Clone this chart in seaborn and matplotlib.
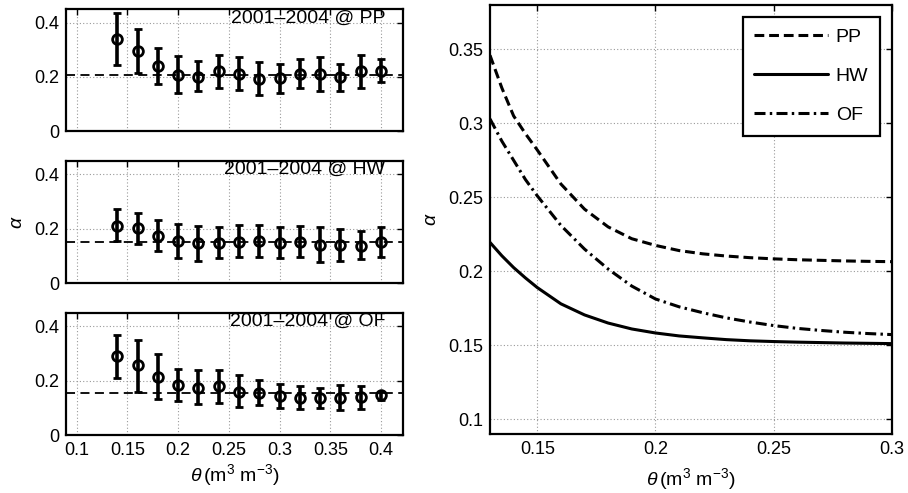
import numpy as np
import pandas as pd
import matplotlib
matplotlib.use("Agg")
import matplotlib.pyplot as plt
import seaborn as sns

# ---- data: binned alpha vs soil moisture ----
theta_bins = [0.14, 0.16, 0.18, 0.20, 0.22, 0.24, 0.26, 0.28, 0.30, 0.32, 0.34, 0.36, 0.38, 0.40]

pp_mean = [0.340, 0.296, 0.241, 0.207, 0.201, 0.220, 0.211, 0.193, 0.195, 0.211, 0.211, 0.198, 0.220, 0.220]
pp_top  = [0.436, 0.377, 0.306, 0.275, 0.260, 0.281, 0.273, 0.254, 0.247, 0.265, 0.273, 0.248, 0.281, 0.265]
pp_bot  = [0.244, 0.214, 0.174, 0.140, 0.149, 0.159, 0.152, 0.131, 0.142, 0.160, 0.149, 0.147, 0.160, 0.179]
pp_ref = 0.207

hw_mean = [0.211, 0.204, 0.174, 0.155, 0.148, 0.148, 0.152, 0.156, 0.146, 0.150, 0.140, 0.140, 0.137, 0.152]
hw_top  = [0.271, 0.259, 0.232, 0.217, 0.211, 0.207, 0.212, 0.212, 0.206, 0.210, 0.205, 0.199, 0.191, 0.207]
hw_bot  = [0.155, 0.145, 0.119, 0.091, 0.082, 0.091, 0.094, 0.097, 0.091, 0.094, 0.079, 0.081, 0.087, 0.097]
hw_ref = 0.152

of_mean = [0.290, 0.256, 0.212, 0.185, 0.173, 0.179, 0.158, 0.155, 0.142, 0.136, 0.136, 0.136, 0.139, 0.146]
of_top  = [0.367, 0.351, 0.298, 0.244, 0.239, 0.239, 0.220, 0.201, 0.188, 0.179, 0.172, 0.183, 0.182, 0.160]
of_bot  = [0.210, 0.157, 0.134, 0.126, 0.115, 0.117, 0.102, 0.109, 0.099, 0.097, 0.099, 0.091, 0.097, 0.130]
of_ref = 0.153

# ---- data: fitted curves ----
theta_curve = [0.13, 0.135, 0.14, 0.145, 0.15, 0.16, 0.17, 0.18, 0.19, 0.20, 0.21, 0.22,
               0.23, 0.24, 0.25, 0.26, 0.27, 0.28, 0.29, 0.30]
pp_curve = [0.346, 0.324, 0.305, 0.293, 0.282, 0.259, 0.242, 0.230, 0.222, 0.2175, 0.214, 0.2118,
            0.2103, 0.2092, 0.2084, 0.2078, 0.2074, 0.2070, 0.2067, 0.2065]
hw_curve = [0.2195, 0.2105, 0.2025, 0.1955, 0.189, 0.178, 0.1705, 0.1650, 0.1610, 0.1583, 0.1563, 0.1550,
            0.1538, 0.1530, 0.1525, 0.1521, 0.1518, 0.1515, 0.1513, 0.1511]
of_curve = [0.303, 0.288, 0.275, 0.262, 0.251, 0.231, 0.215, 0.2015, 0.190, 0.1813, 0.1760, 0.1720,
            0.1685, 0.1657, 0.1633, 0.1614, 0.1600, 0.1588, 0.1579, 0.1572]

sites = ["PP", "HW", "OF"]
panel_titles = ["2001\u20132004 @ PP", "2001\u20132004 @ HW", "2001\u20132004 @ OF"]

sns.set_theme(style="white")
plt.rcParams["font.family"] = ["Liberation Sans", "DejaVu Sans"]
plt.rcParams["mathtext.fontset"] = "custom"
plt.rcParams["mathtext.rm"] = "Liberation Sans"
plt.rcParams["mathtext.it"] = "Liberation Sans:italic"
plt.rcParams["text.color"] = "black"
plt.rcParams["axes.labelcolor"] = "black"
plt.rcParams["xtick.color"] = "black"
plt.rcParams["ytick.color"] = "black"

FS = 13
fig = plt.figure(figsize=(9.08, 4.93), dpi=100)

xlab = r"$\theta\,$(m$^{3}$ m$^{-3}$)"

def style_axes(ax):
    for s in ax.spines.values():
        s.set_color("black")
        s.set_linewidth(1.6)
    ax.tick_params(direction="in", top=True, right=True, length=4, width=1,
                   labelsize=FS, colors="black", pad=5)
    ax.grid(True, linestyle=(0, (1, 2)), color="#999999", linewidth=0.8)
    ax.set_axisbelow(True)

left_boxes = [
    [66 / 908, 1 - 131 / 493, 337 / 908, 122 / 493],
    [66 / 908, 1 - 283 / 493, 337 / 908, 122.3 / 493],
    [66 / 908, 1 - 435 / 493, 337 / 908, 122.3 / 493],
]
means = [pp_mean, hw_mean, of_mean]
tops = [pp_top, hw_top, of_top]
bots = [pp_bot, hw_bot, of_bot]
refs = [pp_ref, hw_ref, of_ref]

for i in range(3):
    ax = fig.add_axes(left_boxes[i])
    m = np.array(means[i]); t = np.array(tops[i]); b = np.array(bots[i])
    ax.axhline(refs[i], color="black", linewidth=1.3, linestyle=(0, (5, 3)), zorder=2)
    ax.errorbar(theta_bins, m, yerr=[m - b, t - m], fmt="o", color="black",
                mfc="none", mec="black", ms=7, mew=2.0, elinewidth=2.6,
                capsize=3.2, capthick=2.6, zorder=3)
    ax.set_xlim(0.0895, 0.4217)
    ax.set_ylim(0, 0.45)
    ax.set_xticks([0.1, 0.15, 0.2, 0.25, 0.3, 0.35, 0.4])
    ax.set_yticks([0, 0.2, 0.4])
    ax.set_yticklabels(["0", "0.2", "0.4"])
    style_axes(ax)
    ax.text(0.947, 0.4, panel_titles[i], transform=ax.get_yaxis_transform(),
            ha="right", va="baseline", fontsize=14, color="black")
    if i < 2:
        ax.set_xticklabels([])
    else:
        ax.set_xticklabels(["0.1", "0.15", "0.2", "0.25", "0.3", "0.35", "0.4"])
        ax.set_xlabel(xlab, fontsize=14, labelpad=2)
    if i == 1:
        ax.set_ylabel(r"$\alpha$", fontsize=14, labelpad=6)

# right panel
axr = fig.add_axes([490 / 908, 1 - 434 / 493, 401.7 / 908, 429 / 493])
n = len(theta_curve)
curve_df = pd.DataFrame({
    "theta": theta_curve * 3,
    "alpha": pp_curve + hw_curve + of_curve,
    "site": ["PP"] * n + ["HW"] * n + ["OF"] * n,
})
line_styles = {"PP": (0, (3.2, 1.6)), "HW": "-", "OF": (0, (3.6, 1.4, 0.8, 1.4))}
for s in sites:
    d = curve_df[curve_df["site"] == s]
    sns.lineplot(data=d, x="theta", y="alpha", ax=axr, color="black", linewidth=2.2,
                 linestyle=line_styles[s], label=s)
axr.set_xlim(0.13, 0.30)
axr.set_ylim(0.09, 0.38)
axr.set_xticks([0.15, 0.2, 0.25, 0.3])
axr.set_xticklabels(["0.15", "0.2", "0.25", "0.3"])
axr.set_yticks([0.1, 0.15, 0.2, 0.25, 0.3, 0.35])
axr.set_yticklabels(["0.1", "0.15", "0.2", "0.25", "0.3", "0.35"])
style_axes(axr)
axr.set_xlabel(xlab, fontsize=14, labelpad=6)
axr.set_ylabel(r"$\alpha$", fontsize=14, labelpad=6)
leg = axr.legend(loc="upper right", fontsize=14, frameon=True, fancybox=False,
                 framealpha=1, edgecolor="black", handlelength=3.8, labelspacing=1.1,
                 borderpad=0.6, borderaxespad=0.6, handletextpad=0.4)
leg.get_frame().set_linewidth(1.6)

fig.savefig("out.png", dpi=100)
